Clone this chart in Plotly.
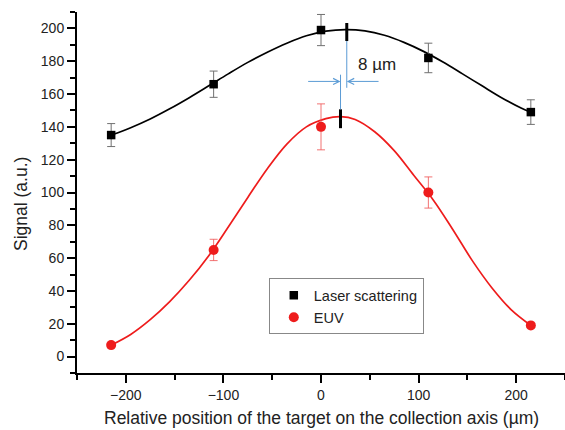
import numpy as np
import plotly.graph_objects as go

# Measured data
pos = [-215, -110, 0, 110, 215]
laser = [135, 166, 199, 182, 149]
laser_err = [7, 8, 9.5, 9, 7.5]
euv = [7, 65, 140, 100, 19]
euv_err = [0, 6.5, 14, 9.5, 0]

# Fitted curves
laser_fit_x = [-215, -195, -175, -155, -135, -115, -95, -75, -55, -35, -15, 5, 25, 45, 65, 85, 105, 125, 145, 165, 185, 205, 215]
laser_fit_y = [135, 139.5, 144.8, 151, 157.8, 165, 172.3, 179.3, 185.5, 191, 195.5, 198.3, 199.3, 198.5, 195.8, 191.5, 186, 179.5, 172.3, 165, 157.8, 151.5, 149]
euv_fit_x = [-215, -195, -175, -155, -135, -115, -95, -75, -55, -35, -15, 5, 20, 35, 55, 75, 95, 115, 135, 155, 175, 195, 215]
euv_fit_y = [7, 13.5, 22.5, 33.5, 46.5, 61.5, 79, 97, 114.5, 129.5, 140, 145, 146.2, 144.5, 137, 125.5, 110.5, 95.5, 77.5, 58.5, 42, 28.5, 19]

x_ticks = [-200, -100, 0, 100, 200]
y_ticks = [0, 20, 40, 60, 80, 100, 120, 140, 160, 180, 200]

BLACK = "#000000"
RED = "#ee1c1c"
BLUE = "#5b9bd5"
TEXT = "#222222"
FONT = "Liberation Sans, Arial, sans-serif"

fig = go.Figure()

fig.add_trace(go.Scatter(x=laser_fit_x, y=laser_fit_y, mode="lines",
                         line=dict(color=BLACK, width=1.7, shape="spline", smoothing=1.0),
                         showlegend=False, hoverinfo="skip"))
fig.add_trace(go.Scatter(x=euv_fit_x, y=euv_fit_y, mode="lines",
                         line=dict(color=RED, width=1.7, shape="spline", smoothing=1.0),
                         showlegend=False, hoverinfo="skip"))

fig.add_trace(go.Scatter(x=pos, y=laser, mode="markers", name="Laser scattering",
                         marker=dict(symbol="square", size=8.5, color=BLACK),
                         error_y=dict(type="data", array=laser_err, visible=True,
                                      color="#707070", thickness=1, width=4)))
fig.add_trace(go.Scatter(x=pos, y=euv, mode="markers", name="EUV",
                         marker=dict(symbol="circle", size=10, color=RED),
                         error_y=dict(type="data", array=euv_err, visible=True,
                                      color="rgba(240,90,90,0.85)", thickness=1, width=4)))

# Peak markers derived from the fitted curves
bi = int(np.argmax(laser_fit_y))
ri = int(np.argmax(euv_fit_y))
bx, by = laser_fit_x[bi] + 1.4, laser_fit_y[bi]
rx, ry = euv_fit_x[ri], euv_fit_y[ri]

shapes = [
    dict(type="line", x0=bx, x1=bx, y0=by - 7, y1=by + 4, xref="x", yref="y",
         line=dict(color=BLACK, width=3)),
    dict(type="line", x0=rx, x1=rx, y0=ry - 7, y1=ry + 4.5, xref="x", yref="y",
         line=dict(color=BLACK, width=3)),
    dict(type="line", x0=bx, x1=bx, y0=by - 7, y1=163.8, xref="x", yref="y",
         line=dict(color=BLUE, width=1)),
    dict(type="line", x0=rx, x1=rx, y0=171.8, y1=ry + 4.5, xref="x", yref="y",
         line=dict(color=BLUE, width=1)),
]

hy = 167.7
annotations = [
    dict(x=rx, y=hy, ax=-14.7, ay=hy, xref="x", yref="y", axref="x", ayref="y",
         text="", showarrow=True, arrowhead=5, arrowsize=1.2, arrowwidth=1, arrowcolor=BLUE),
    dict(x=bx, y=hy, ax=60.5, ay=hy, xref="x", yref="y", axref="x", ayref="y",
         text="", showarrow=True, arrowhead=5, arrowsize=1.2, arrowwidth=1, arrowcolor=BLUE),
    dict(x=57.4, y=177.9, xref="x", yref="y", text="8 \u00b5m", showarrow=False,
         font=dict(family=FONT, size=17, color=TEXT), xanchor="center", yanchor="middle"),
    dict(x=0.5, y=-0.1247, xref="paper", yref="paper",
         text="Relative position of the target on the collection axis (\u00b5m)",
         showarrow=False, font=dict(family=FONT, size=17.5, color=TEXT),
         xanchor="center", yanchor="middle"),
    dict(x=-0.1148, y=0.468, xref="paper", yref="paper", text="Signal (a.u.)",
         showarrow=False, textangle=-90, font=dict(family=FONT, size=17.5, color=TEXT),
         xanchor="center", yanchor="middle"),
]

fig.update_layout(
    width=565, height=430,
    margin=dict(l=77, r=0, t=12, b=57),
    paper_bgcolor="white", plot_bgcolor="white",
    font=dict(family=FONT, size=14, color=TEXT),
    shapes=shapes, annotations=annotations,
    legend=dict(x=0.393, y=0.262, xanchor="left", yanchor="top",
                bordercolor="#888888", borderwidth=1, bgcolor="white",
                font=dict(family=FONT, size=14.5, color=TEXT),
                tracegroupgap=0, indentation=4),
    xaxis=dict(range=[-250, 250], tickvals=x_ticks, showgrid=False, zeroline=False,
               showline=True, linecolor=BLACK, linewidth=2,
               ticks="outside", ticklen=8, tickwidth=1.5, tickcolor=BLACK,
               minor=dict(dtick=50, tick0=-250, ticks="outside", ticklen=5, tickwidth=1.5, tickcolor=BLACK),
               tickfont=dict(family=FONT, size=14, color=TEXT)),
    yaxis=dict(range=[-10, 210], tickvals=y_ticks, showgrid=False, zeroline=False,
               showline=True, linecolor=BLACK, linewidth=2,
               ticks="outside", ticklen=8, tickwidth=1.5, tickcolor=BLACK,
               minor=dict(dtick=10, tick0=-10, ticks="outside", ticklen=5, tickwidth=1.5, tickcolor=BLACK),
               tickfont=dict(family=FONT, size=14, color=TEXT)),
)

fig.write_html("out.html", config={"displayModeBar": False},
               post_script="document.body.style.margin='0px';document.body.style.overflow='hidden';")
